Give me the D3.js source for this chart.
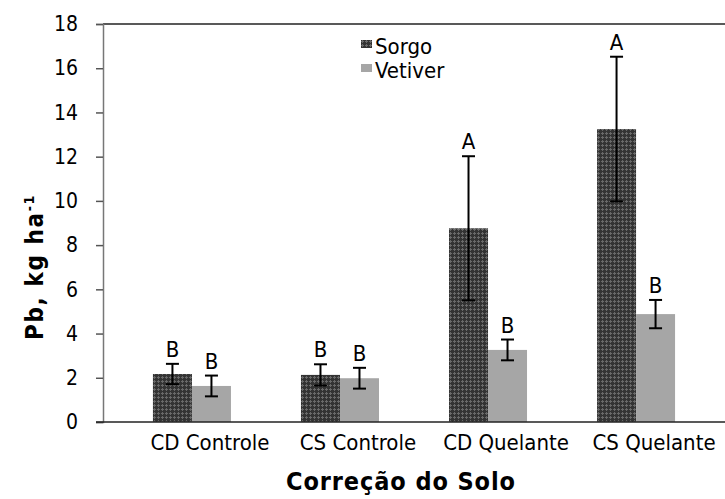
<!DOCTYPE html>
<html>

<head>
    <meta charset=utf-8 />
    <script src="https://cdn.jsdelivr.net/npm/d3@7"></script>
    <title>Pb por correcao do solo</title>
    <style>
        html,
        body {
            margin: 0;
            padding: 0;
            background: #fff;
        }

        text {
            font-family: "DejaVu Sans Condensed", "DejaVu Sans", sans-serif;
            font-stretch: condensed;
        }
    </style>
</head>

<body>
    <div id="svg-canvas"></div>
    <script>
        // data
        var categories = ['CD Controle', 'CS Controle', 'CD Quelante', 'CS Quelante'];
        var series = ['Sorgo', 'Vetiver'];
        var sorgo = [2.17, 2.13, 8.76, 13.25];
        var sorgoErr = [0.46, 0.48, 3.26, 3.27];
        var sorgoLetters = ['B', 'B', 'A', 'A'];
        var vetiver = [1.63, 1.98, 3.26, 4.88];
        var vetiverErr = [0.47, 0.47, 0.47, 0.64];
        var vetiverLetters = ['B', 'B', 'B', 'B'];
        var yTicks = [0, 2, 4, 6, 8, 10, 12, 14, 16, 18];

        var W = 725, H = 499;
        var mLeft = 103, mTop = 24, mBottom = 422;
        var fontFam = '"DejaVu Sans Condensed", "DejaVu Sans", sans-serif';

        var svg = d3.select('#svg-canvas').append('svg')
            .attr('width', W)
            .attr('height', H);

        // dotted dark fill for Sorgo
        var pat = svg.append('defs').append('pattern')
            .attr('id', 'sorgoFill')
            .attr('width', 4)
            .attr('height', 4)
            .attr('patternUnits', 'userSpaceOnUse');
        pat.append('rect').attr('width', 4).attr('height', 4).attr('fill', '#333');
        pat.append('rect').attr('x', 1).attr('y', 0).attr('width', 1).attr('height', 3).attr('fill', '#6a6a6a');
        pat.append('rect').attr('x', 0).attr('y', 1).attr('width', 3).attr('height', 1).attr('fill', '#6a6a6a');

        var colors = { Sorgo: 'url(#sorgoFill)', Vetiver: '#a6a6a6' };

        var y = d3.scaleLinear().domain([0, 18]).range([mBottom, mTop]);
        var x = d3.scaleBand().domain(categories).range([118, 710]).paddingInner(0.473).paddingOuter(0.236);
        var xs = d3.scaleBand().domain(series).range([0, x.bandwidth()]);
        var labelShift = 18;

        var rows = categories.map(function (c, i) {
            return {
                cat: c,
                bars: [
                    { s: 'Sorgo', v: sorgo[i], e: sorgoErr[i], l: sorgoLetters[i] },
                    { s: 'Vetiver', v: vetiver[i], e: vetiverErr[i], l: vetiverLetters[i] }
                ]
            };
        });

        // top frame line
        svg.append('line')
            .attr('x1', mLeft).attr('x2', W)
            .attr('y1', mTop).attr('y2', mTop)
            .attr('stroke', '#222').attr('stroke-width', 1.5);

        var g = svg.append('g');
        var grp = g.selectAll('.grp')
            .data(rows)
            .enter().append('g')
            .attr('class', 'grp')
            .attr('transform', d => 'translate(' + x(d.cat) + ',0)');

        var bar = grp.selectAll('.bar')
            .data(d => d.bars)
            .enter().append('g')
            .attr('class', 'bar');

        bar.append('rect')
            .attr('x', d => xs(d.s))
            .attr('width', xs.bandwidth())
            .attr('y', d => y(d.v))
            .attr('height', d => y(0) - y(d.v))
            .attr('fill', d => colors[d.s]);

        var cx = d => xs(d.s) + xs.bandwidth() / 2;

        bar.append('line')
            .attr('x1', cx).attr('x2', cx)
            .attr('y1', d => y(d.v + d.e))
            .attr('y2', d => y(d.v - d.e))
            .attr('stroke', '#000').attr('stroke-width', 2);
        bar.selectAll('.cap')
            .data(d => [[d, d.v + d.e], [d, d.v - d.e]])
            .enter().append('line')
            .attr('class', 'cap')
            .attr('x1', d => cx(d[0]) - 6.5)
            .attr('x2', d => cx(d[0]) + 6.5)
            .attr('y1', d => y(d[1]))
            .attr('y2', d => y(d[1]))
            .attr('stroke', '#000').attr('stroke-width', 2);

        bar.append('text')
            .attr('x', cx)
            .attr('y', d => y(d.v + d.e) - 7)
            .attr('text-anchor', 'middle')
            .attr('font-size', 22)
            .attr('fill', '#000')
            .text(d => d.l);

        // y axis
        var yAxis = svg.append('g')
            .attr('transform', 'translate(' + mLeft + ',0)')
            .call(d3.axisLeft(y).tickValues(yTicks).tickSize(7).tickPadding(18));
        yAxis.select('.domain').attr('stroke', '#777').attr('stroke-width', 1.5);
        yAxis.selectAll('.tick line').attr('stroke', '#555').attr('stroke-width', 1.5);
        yAxis.selectAll('.tick text')
            .attr('font-size', 21)
            .attr('fill', '#000')
            .style('font-family', fontFam);

        // x axis line
        svg.append('line')
            .attr('x1', mLeft - 7).attr('x2', W)
            .attr('y1', mBottom).attr('y2', mBottom)
            .attr('stroke', '#222').attr('stroke-width', 1.5);

        svg.selectAll('.xlab')
            .data(categories)
            .enter().append('text')
            .attr('class', 'xlab')
            .attr('x', d => x(d) + x.bandwidth() / 2 + labelShift)
            .attr('y', 450)
            .attr('text-anchor', 'middle')
            .attr('font-size', 22)
            .attr('fill', '#000')
            .text(d => d);

        // axis titles
        svg.append('text')
            .attr('x', 401)
            .attr('y', 490)
            .attr('text-anchor', 'middle')
            .attr('font-size', 25)
            .attr('font-weight', 'bold')
            .style('letter-spacing', '0.9px')
            .text('Correção do Solo');

        var yt = svg.append('text')
            .attr('transform', 'translate(43,267) rotate(-90)')
            .attr('text-anchor', 'middle')
            .attr('font-size', 24)
            .attr('font-weight', 'bold')
            .style('letter-spacing', '1.6px');
        yt.append('tspan').text('Pb, kg ha');
        yt.append('tspan').attr('dy', -9).attr('font-size', 14).text('-1');

        // legend
        var leg = svg.selectAll('.leg')
            .data(series)
            .enter().append('g')
            .attr('class', 'leg')
            .attr('transform', (d, i) => 'translate(361,' + (40 + i * 24) + ')');
        leg.append('rect')
            .attr('width', 11).attr('height', 8)
            .attr('fill', d => colors[d]);
        leg.append('text')
            .attr('x', 14)
            .attr('y', 14)
            .attr('font-size', 22)
            .attr('fill', '#000')
            .text(d => d);
    </script>
</body>

</html>
